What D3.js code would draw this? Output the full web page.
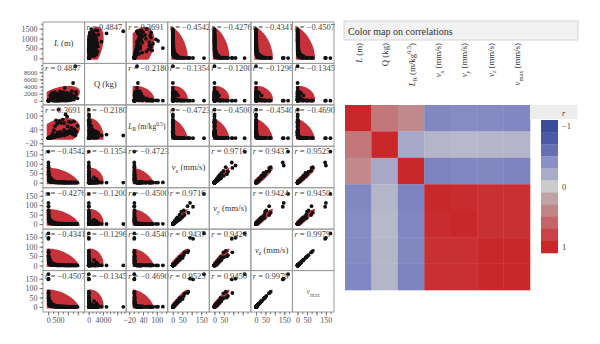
<!DOCTYPE html>
<html>
<head>
<meta charset="utf-8">
<script src="https://cdn.jsdelivr.net/npm/d3@7"></script>
<style>
body{margin:0;background:#fff}
svg{font-family:"Liberation Serif","DejaVu Serif",serif}
</style>
</head>
<body>
<svg width="600" height="344"></svg>
<script>
// blast vibration records: distance, charge, scaled distance, velocities
var varKeys = ["L","Q","LR","vx","vy","vz","vmax"];

var L    = [12,14,16,20,22,25,28,30,32,35,38,40,45,48,52,55,60,70,80,90,100,120,140,160,180,200,230,260,290,320,350,380,400,430,460,490,520,550,580,620,650,700,740,780,820,840,880,920,960,1000,1050,1100,1150,1200,1260,1300,1370,1420,1480,18,26,34,42,50,65,
            110,150,190,240,270,310,340,370,410,450,480,510,540,600,630,670,720,760,800,860,900,940,990,1030,1080,1130,1180,1230,1330,1400];
var Q    = [30,40,35,60,50,80,70,100,90,120,110,150,140,180,160,200,220,300,250,400,350,500,450,600,200,800,100,1000,60,1200,40,1500,25,900,50,1800,17,400,60,2000,90,1100,80,2400,150,3600,70,1300,100,2100,200,1600,260,2700,5000,300,9700,1900,700,25,45,70,95,130,160,
            1500,800,2200,600,1800,400,2500,1100,700,2000,300,1400,900,2600,500,1700,1200,2300,450,1600,800,2200,350,1300,900,1900,600,1500,1100,2500];
var LR   = [2.2,2.2,2.7,2.6,3.1,2.8,3.3,3.0,3.4,3.2,3.6,3.3,3.8,3.6,4.1,3.9,4.0,4.0,5.1,4.5,5.3,5.4,6.6,6.5,12.7,7.1,23,8.2,37,9.2,55,9.8,80,14.3,65,11.5,126,27.5,75,13.9,68,21,83,15.9,67,14,105,25.5,96,21.8,74,27.5,71,23,17.8,75,13.9,32.6,56,3.6,3.9,4.1,4.3,4.4,5.1,
            2.8,5.3,4.1,9.8,6.4,15.5,6.8,11.2,15.5,10.1,27.7,13.6,18,11.8,28.2,16.3,20.8,15.8,37.7,21.5,31.8,20,52.9,28.6,36,25.9,48.2,31.8,40.1,28];
var vx   = [165,107,91,78,82,62,45,52,36,38,24,30,18,20,12,15,9,9,8,7,6,5,4.5,4,3.5,3.2,2.8,2.5,2.2,2,1.8,1.7,1.5,1.4,1.3,1.2,1.1,1,0.9,0.9,0.8,0.8,0.7,0.7,0.6,0.6,0.5,0.5,0.5,0.4,0.4,0.4,0.3,0.3,0.3,0.3,0.2,0.2,0.2,58,44,24,22,11,10,
            28,12,18,4,9,2.5,8,3.5,2.5,4,1.2,3,2,3.6,1.2,2.4,1.6,2.4,0.8,1.5,1,1.6,0.5,1.1,0.8,1.3,0.6,1,0.7,1.1];
var vy   = [160,92,112,95,60,48,66,38,50,26,36,20,27,13,19,10,13,8,9,6,7,5,5,3.5,4,3,3,2.2,2.5,1.8,2,1.5,1.6,1.3,1.4,1.1,1.2,1,1,0.8,0.9,0.7,0.8,0.6,0.7,0.6,0.6,0.5,0.5,0.5,0.4,0.3,0.4,0.3,0.3,0.2,0.3,0.2,0.2,72,32,31,16,16,7,
            24,14,15,5,7,3,9,3,2.2,4.5,1,2.6,2.3,3.2,1.4,2,1.8,2.1,0.9,1.3,1.1,1.4,0.6,1,0.9,1.2,0.5,1.1,0.6,1];
var vz   = [170,142,147,70,78,70,48,40,44,30,28,26,21,19,15,14,12,10,7,8,6,6,4,4.5,3,3.5,2.5,2.8,2,2.2,1.6,1.9,1.4,1.5,1.2,1.3,1,1.1,0.9,1,0.8,0.8,0.7,0.7,0.6,0.6,0.5,0.6,0.5,0.4,0.4,0.4,0.3,0.3,0.3,0.3,0.2,0.2,0.2,55,46,30,18,13,10,
            30,11,17,4.5,8,2.8,7.5,3.8,2.6,3.8,1.1,2.8,2.1,3.4,1.3,2.2,1.7,2.3,0.8,1.4,1,1.5,0.5,1.1,0.8,1.2,0.6,1,0.7,1];
var vmax = [174,146,150,74,81,72,50,42,46,32,30,27,22,20,16,15,12.5,11,8,8.5,6.5,6.5,4.5,5,3.5,4,3,3.2,2.3,2.6,1.9,2.2,1.7,1.8,1.5,1.6,1.3,1.4,1.2,1.2,1.1,1.1,1,0.9,0.9,0.8,0.8,0.7,0.7,0.6,0.6,0.5,0.5,0.4,0.4,0.4,0.3,0.3,0.3,58,48,31,19,14,10.5,
            31,14.5,18.5,5.2,9.5,3.1,9.2,4,2.8,4.6,1.3,3.1,2.4,3.7,1.5,2.5,1.9,2.5,1,1.6,1.2,1.7,0.7,1.2,1,1.4,0.7,1.2,0.8,1.2];

// correlation coefficients (row var vs column var)
var corr = [
  [1, 0.4847, 0.3691, -0.4542, -0.4276, -0.4341, -0.4507],
  [0.4847, 1, -0.2180, -0.1354, -0.1200, -0.1296, -0.1345],
  [0.3691, -0.2180, 1, -0.4723, -0.4500, -0.4540, -0.4690],
  [-0.4542, -0.1354, -0.4723, 1, 0.9716, 0.9437, 0.9525],
  [-0.4276, -0.1200, -0.4500, 0.9716, 1, 0.9424, 0.9450],
  [-0.4341, -0.1296, -0.4540, 0.9437, 0.9424, 1, 0.9979],
  [-0.4507, -0.1345, -0.4690, 0.9525, 0.9450, 0.9979, 1]
];

var domains = [[-260,1840],[-1150,10500],[-33,147],[-27,193],[-27,193],[-27,193],[-27,193]];
var leftTicks = [[0,500,1000,1500],[0,2000,4000,6000,8000],[-20,40,100],[0,50,100,150],[0,50,100,150],[0,50,100,150],[0,50,100,150]];
var minorTicks = [[0,250,500,750,1000,1250,1500,1750],[0,1000,2000,3000,4000,5000,6000,7000,8000,9000,10000],[-20,0,20,40,60,80,100,120,140],
                  [0,25,50,75,100,125,150,175],[0,25,50,75,100,125,150,175],[0,25,50,75,100,125,150,175],[0,25,50,75,100,125,150,175]];
var bottomTicks = [[0,500,1000,1500],[0,4000,8000],[-20,40,100],[0,50,100,150],[0,50,100,150],[0,50,100,150],[0,50,100,150]];
var bottomLabels = [[0,500],[0,4000],[-20,40,100],[0,50,150],[0,50],[0,50,150],[0,50,150]];
var tickFont = [8,6.8,8,8,8,8,8];

var legendColors = ["#3b4c9b","#4a58a6","#6670b5","#8a8fc6","#aaabc8","#cbcbcb","#bfa3a5","#c08587","#c56568","#c84448","#c9282a"];
var legendTicks = [-1,0,1];

// label pieces: t = text, i = italic, b = subscript, p = superscript
var labelParts = {
  L:[{t:"L",i:1},{t:" (m)"}],
  Q:[{t:"Q (kg)"}],
  LR:[{t:"L",i:1},{t:"R",b:1},{t:" (m/kg"},{t:"0.5",p:1},{t:")"}],
  vx:[{t:"v",i:1},{t:"x",b:1,i:1},{t:" (mm/s)"}],
  vy:[{t:"v",i:1},{t:"y",b:1,i:1},{t:" (mm/s)"}],
  vz:[{t:"v",i:1},{t:"z",b:1,i:1},{t:" (mm/s)"}],
  vmax:[{t:"v",i:1},{t:"max",b:1},{t:" (mm/s)"}]
};

var writeLabel = function(text, parts, size)
{
    var shift = 0;
    parts.forEach(function(p)
    {
        var want = p.b ? size*0.3 : (p.p ? -size*0.38 : 0);
        text.append("tspan")
            .text(p.t)
            .attr("dy", want-shift)
            .attr("font-size", (p.b||p.p) ? size*0.72 : size)
            .attr("font-style", p.i ? "italic" : "normal");
        shift = want;
    });
}

var svg = d3.select("svg");
var n = varKeys.length;
var grid = {left:43, top:22, width:291, height:290};
var cw = grid.width/n, ch = grid.height/n;
var cols = {L:L, Q:Q, LR:LR, vx:vx, vy:vy, vz:vz, vmax:vmax};

var xScales = varKeys.map(function(k,j){
    return d3.scaleLinear().domain(domains[j]).range([grid.left+j*cw, grid.left+(j+1)*cw]);
});
var yScales = varKeys.map(function(k,i){
    return d3.scaleLinear().domain(domains[i]).range([grid.top+(i+1)*ch, grid.top+i*ch]);
});

// ellipse from the series means and spreads, tilted by the stated r
var ellipse = function(xs, ys, r, k)
{
    var mx = d3.mean(xs), my = d3.mean(ys);
    var sx = d3.deviation(xs), sy = d3.deviation(ys);
    return d3.range(0, 121).map(function(s)
    {
        var t = s/120*2*Math.PI;
        return [mx + k*sx*Math.cos(t), my + k*sy*(r*Math.cos(t) + Math.sqrt(1-r*r)*Math.sin(t))];
    });
}

var defs = svg.append("defs");
var cells = svg.append("g").classed("splom",true);

varKeys.forEach(function(rk,i)
{
    varKeys.forEach(function(ck,j)
    {
        var xs = xScales[j], ys = yScales[i];
        var x0 = grid.left+j*cw, y0 = grid.top+i*ch;
        var g = cells.append("g");
        if(i==j)
        {
            var t = g.append("text")
                .attr("x", x0+cw/2)
                .attr("y", y0+ch/2+3)
                .attr("text-anchor","middle")
                .attr("fill", rk=="vmax" ? "#777" : "#333");
            if(rk=="vmax")
                writeLabel(t, [{t:"v",i:1},{t:"max",b:1}], 8);
            else if(rk=="LR")
                writeLabel(t, labelParts[rk], 7.6);
            else
                writeLabel(t, labelParts[rk], 8.6);
            return;
        }
        var xv = cols[ck], yv = cols[rk];
        var xd = domains[j], yd = domains[i];
        var padX = (xd[1]-xd[0])*0.04, padY = (yd[1]-yd[0])*0.04;
        var cx0 = Math.max(x0, xs(d3.min(xv)-padX));
        var cy1 = Math.min(y0+ch, ys(d3.min(yv)-padY));
        var id = "clip"+i+"_"+j;
        defs.append("clipPath").attr("id",id)
            .append("rect")
            .attr("x",cx0).attr("y",y0)
            .attr("width",x0+cw-cx0).attr("height",cy1-y0);

        var line = d3.line()
            .x(function(d){ return xs(d[0]); })
            .y(function(d){ return ys(d[1]); });
        g.append("path")
            .attr("d", line(ellipse(xv, yv, corr[i][j], 2.5)))
            .attr("fill","#c8303a")
            .attr("clip-path","url(#"+id+")");

        var cellClip = "cell"+i+"_"+j;
        defs.append("clipPath").attr("id",cellClip)
            .append("rect").attr("x",x0).attr("y",y0).attr("width",cw).attr("height",ch);
        g.append("g").attr("clip-path","url(#"+cellClip+")")
            .selectAll("circle")
            .data(d3.range(xv.length))
            .enter()
            .append("circle")
            .attr("cx", function(d){ return xs(xv[d]); })
            .attr("cy", function(d){ return ys(yv[d]); })
            .attr("r", 1.9)
            .attr("fill","#111");

        var lab = g.append("text")
            .attr("x", x0+2)
            .attr("y", y0+8)
            .attr("fill","#444")
            .attr("font-size",8.5);
        lab.append("tspan").text("r").attr("font-style","italic");
        lab.append("tspan").text(" = "+d3.format(".4f")(corr[i][j]));
    });
});

// cell borders
cells.selectAll("rect.cell")
    .data(d3.cross(d3.range(n), d3.range(n)))
    .enter()
    .append("rect")
    .classed("cell",true)
    .attr("x", function(d){ return grid.left+d[1]*cw; })
    .attr("y", function(d){ return grid.top+d[0]*ch; })
    .attr("width", cw).attr("height", ch)
    .attr("fill","none")
    .attr("stroke","#9a9a9a")
    .attr("stroke-width",1);

// left and bottom axes
var axes = svg.append("g");
var styleAxis = function(sel, size)
{
    sel.attr("font-size",size).attr("font-family","Liberation Serif, serif");
    sel.select(".domain").remove();
    sel.selectAll("line").attr("stroke","#777");
    sel.selectAll("text").attr("fill","#555");
}
yScales.forEach(function(s,i)
{
    axes.append("g")
        .attr("transform","translate("+grid.left+",0)")
        .call(d3.axisLeft(s).tickValues(minorTicks[i]).tickSize(2).tickFormat(""))
        .call(styleAxis, 8);
    axes.append("g")
        .attr("transform","translate("+grid.left+",0)")
        .call(d3.axisLeft(s).tickValues(leftTicks[i]).tickSize(3.5).tickPadding(2).tickFormat(d3.format("d")))
        .call(styleAxis, tickFont[i]);
});
xScales.forEach(function(s,j)
{
    axes.append("g")
        .attr("transform","translate(0,"+(grid.top+grid.height)+")")
        .call(d3.axisBottom(s).tickValues(minorTicks[j]).tickSize(2).tickFormat(""))
        .call(styleAxis, 8);
    axes.append("g")
        .attr("transform","translate(0,"+(grid.top+grid.height)+")")
        .call(d3.axisBottom(s).tickValues(bottomTicks[j]).tickSize(3.5).tickPadding(2)
              .tickFormat(function(v){ return bottomLabels[j].indexOf(v)>=0 ? d3.format("d")(v) : ""; }))
        .call(styleAxis, 8);
});

// correlation colour map
var hm = {left:345, top:105, size:185};
var band = d3.scaleBand().domain(varKeys).range([hm.left, hm.left+hm.size]);
var bandY = d3.scaleBand().domain(varKeys).range([hm.top, hm.top+hm.size]);
var color = d3.scaleLinear()
    .domain(legendColors.map(function(c,i){ return -1+i*0.2; }))
    .range(legendColors);

svg.append("rect")
    .attr("x",344).attr("y",21).attr("width",234).attr("height",19)
    .attr("fill","#f2f2f2").attr("stroke","#d4d4d4");
svg.append("text")
    .text("Color map on correlations")
    .attr("x",348).attr("y",34.5)
    .attr("font-size",10)
    .attr("fill","#333");

var heat = svg.append("g");
heat.selectAll("rect")
    .data(d3.cross(d3.range(n), d3.range(n)))
    .enter()
    .append("rect")
    .attr("x", function(d){ return band(varKeys[d[1]]); })
    .attr("y", function(d){ return bandY(varKeys[d[0]]); })
    .attr("width", band.bandwidth()+0.3)
    .attr("height", bandY.bandwidth()+0.3)
    .attr("fill", function(d){ return color(corr[d[0]][d[1]]); });

varKeys.forEach(function(k)
{
    var cx = band(k)+band.bandwidth()/2+3.5;
    var t = svg.append("text")
        .attr("transform","translate("+cx+",43) rotate(-90)")
        .attr("text-anchor","end")
        .attr("fill","#333");
    writeLabel(t, labelParts[k], 8.8);
});

// legend
svg.append("rect")
    .attr("x",hm.left+hm.size).attr("y",hm.top)
    .attr("width",47).attr("height",14)
    .attr("fill","#ececec");
var bins = d3.scaleBand().domain(d3.range(legendColors.length)).range([120,253]);
svg.append("g").selectAll("rect")
    .data(legendColors)
    .enter()
    .append("rect")
    .attr("x",541)
    .attr("y", function(d,i){ return bins(i); })
    .attr("width",17)
    .attr("height", bins.bandwidth()+0.3)
    .attr("fill", function(d){ return d; });
var rScale = d3.scaleLinear().domain([-1,1])
    .range([bins(0)+bins.bandwidth()/2, bins(legendColors.length-1)+bins.bandwidth()/2]);
svg.append("g").selectAll("text")
    .data(legendTicks)
    .enter()
    .append("text")
    .attr("x",562)
    .attr("y", function(d){ return rScale(d)+3; })
    .attr("font-size",8.5)
    .attr("fill","#444")
    .text(function(d){ return d3.format("d")(d); });
svg.append("text")
    .text("r")
    .attr("x",562).attr("y",116)
    .attr("font-size",8.5)
    .attr("font-style","italic")
    .attr("fill","#444");
</script>
</body>
</html>
